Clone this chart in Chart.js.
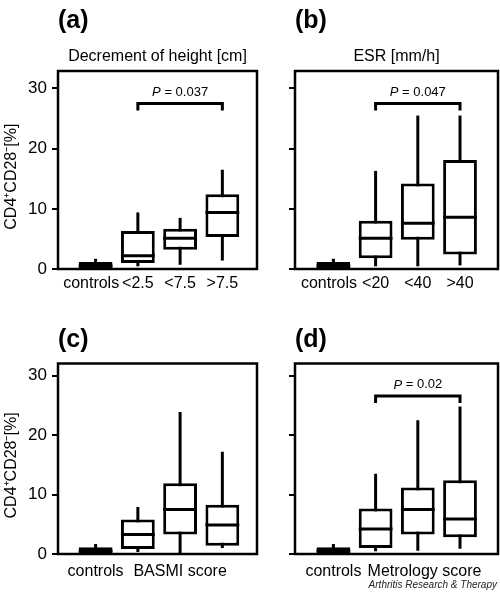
<!DOCTYPE html>
<html>
<head>
<meta charset="utf-8">
<script src="https://cdn.jsdelivr.net/npm/chart.js@4.4.1/dist/chart.umd.min.js"></script>
<style>
    html, body { margin: 0; padding: 0; background: #fff; }
    #fig { position: relative; width: 500px; height: 593px; overflow: hidden; }
    #fig canvas { position: absolute; }
    #credit {
        position: absolute; right: 3px; top: 579px;
        font: italic 10px "Liberation Sans", Arial, sans-serif; color: #222;
    }
</style>
</head>
<body>
<div id="fig">
    <canvas id="panelA" width="262" height="300" style="left:0;top:0"></canvas>
    <canvas id="panelB" width="263" height="300" style="left:237px;top:0"></canvas>
    <canvas id="panelC" width="262" height="300" style="left:0;top:293px"></canvas>
    <canvas id="panelD" width="263" height="300" style="left:237px;top:293px"></canvas>
    <div id="credit">Arthritis Research &amp; Therapy</div>
</div>
<script>
// CD4+CD28- T cells (%) - four box plot panels

// (a) decrement of height
const heightLabels = ['controls\u00a0\u00a0', '<2.5', '<7.5', '>7.5'];
const heightMin = [0, 0.45, 0.7, 1.4];
const heightQ1 = [0, 1.0, 3.2, 5.3];
const heightMedian = [0.5, 2.2, 5.1, 9.4];
const heightQ3 = [1.15, 6.3, 6.7, 12.4];
const heightMax = [1.7, 9.4, 8.5, 16.5];

// (b) ESR
const esrLabels = ['controls\u00a0\u00a0', '<20', '<40', '>40'];
const esrMin = [0, 0.45, 0.45, 0.6];
const esrQ1 = [0, 1.8, 4.85, 2.4];
const esrMedian = [0.5, 5.1, 7.6, 8.6];
const esrQ3 = [1.15, 8.0, 14.2, 18.1];
const esrMax = [1.7, 16.3, 25.5, 25.5];

// (c) BASMI score
const basmiLabels = ['controls', '', 'BASMI score', ''];
const basmiMin = [0, 0.35, 0, 1.0];
const basmiQ1 = [0, 0.85, 3.3, 1.4];
const basmiMedian = [0.5, 3.3, 7.5, 4.9];
const basmiQ3 = [1.15, 5.8, 11.9, 8.3];
const basmiMax = [1.7, 7.9, 23.9, 17.2];

// (d) metrology score
const metroLabels = ['controls', '', '\u00a0\u00a0\u00a0Metrology score', ''];
const metroMin = [0, 0.45, 0.55, 0.9];
const metroQ1 = [0, 1.0, 3.3, 2.8];
const metroMedian = [0.5, 4.2, 7.5, 5.9];
const metroQ3 = [1.15, 7.65, 11.2, 12.4];
const metroMax = [1.7, 13.5, 22.5, 24.8];

const yTicks = [0, 10, 20, 30];

// significance brackets: [from group, to group, level, P]
const heightSig = [1, 3, 27.5, '0.037'];
const esrSig = [1, 3, 27.5, '0.047'];
const metroSig = [1, 3, 26.6, '0.02'];

const FONT = '"Liberation Sans", Arial, sans-serif';
Chart.defaults.font.family = FONT;
Chart.defaults.color = '#000';

// medians, frame and P brackets
const boxExtras = {
    id: 'boxExtras',
    afterDatasetsDraw(chart, args, opts) {
        const { ctx, chartArea: area, scales: { x, y } } = chart;
        const boxes = chart.getDatasetMeta(0).data;
        ctx.save();
        ctx.strokeStyle = '#000';
        ctx.lineWidth = 3;
        opts.median.forEach((m, i) => {
            const bar = boxes[i];
            const py = y.getPixelForValue(m);
            ctx.beginPath();
            ctx.moveTo(bar.x - bar.width / 2, py);
            ctx.lineTo(bar.x + bar.width / 2, py);
            ctx.stroke();
        });

        ctx.lineWidth = 2.5;
        ctx.strokeRect(area.left, area.top, area.width, area.height);

        if (opts.sig) {
            const [from, to, level, p] = opts.sig;
            const x1 = x.getPixelForValue(from);
            const x2 = x.getPixelForValue(to);
            const yl = y.getPixelForValue(level);
            ctx.lineWidth = 3;
            ctx.beginPath();
            ctx.moveTo(x1, yl + 7);
            ctx.lineTo(x1, yl);
            ctx.lineTo(x2, yl);
            ctx.lineTo(x2, yl + 7);
            ctx.stroke();

            const rest = ' = ' + p;
            ctx.font = 'italic 13px ' + FONT;
            const wP = ctx.measureText('P').width;
            ctx.font = '13px ' + FONT;
            const wR = ctx.measureText(rest).width;
            const start = (x1 + x2) / 2 - (wP + wR) / 2;
            ctx.fillStyle = '#000';
            ctx.textAlign = 'left';
            ctx.textBaseline = 'middle';
            ctx.font = 'italic 13px ' + FONT;
            ctx.fillText('P', start, yl - 11);
            ctx.font = '13px ' + FONT;
            ctx.fillText(rest, start + wP, yl - 11);
        }
        ctx.restore();
    }
};

function makePanel(id, letter, subtitle, labels, min, q1, median, q3, max, sig, layout) {
    const ctx = document.getElementById(id);
    if (!ctx) return;

    new Chart(ctx, {
        type: 'bar',
        data: {
            datasets: [
                {
                    label: 'box',
                    data: q1.map((v, i) => ({ x: i, y: [v, q3[i]] })),
                    backgroundColor: q1.map((v, i) => i === 0 ? '#000' : '#fff'),
                    borderColor: '#000',
                    borderWidth: 3,
                    borderSkipped: false,
                    grouped: false,
                    barPercentage: 0.8,
                    categoryPercentage: 1,
                    order: 1
                },
                {
                    label: 'whisker',
                    data: min.map((v, i) => ({ x: i, y: [v, max[i]] })),
                    backgroundColor: '#000',
                    borderWidth: 0,
                    grouped: false,
                    maxBarThickness: 3,
                    order: 2
                }
            ]
        },
        options: {
            responsive: false,
            animation: false,
            events: [],
            layout: { padding: { top: layout.padTop, right: layout.padRight, bottom: 0, left: 0 } },
            plugins: {
                legend: { display: false },
                tooltip: { enabled: false },
                title: {
                    display: true,
                    text: letter,
                    align: 'start',
                    fullSize: false,
                    color: '#000',
                    font: { size: 25, weight: 'bold' },
                    padding: layout.titlePad
                },
                subtitle: {
                    display: !!subtitle,
                    text: subtitle || '',
                    fullSize: false,
                    color: '#000',
                    font: { size: 16 },
                    padding: { top: 11, bottom: 4.8 }
                },
                boxExtras: { median: median, sig: sig }
            },
            scales: {
                x: {
                    type: 'linear',
                    position: 'bottom',
                    offset: false,
                    min: layout.xMin,
                    max: layout.xMax,
                    afterBuildTicks: s => { s.ticks = labels.map((l, i) => ({ value: i })); },
                    afterFit: s => { s.height = layout.xHeight; },
                    grid: { display: false, drawTicks: false, offset: false },
                    border: { display: false },
                    ticks: {
                        autoSkip: false,
                        maxRotation: 0,
                        padding: layout.labelPad,
                        color: '#000',
                        font: { size: 16 },
                        callback: v => labels[v] ?? ''
                    }
                },
                y: {
                    min: 0,
                    max: layout.yMax,
                    afterBuildTicks: s => { s.ticks = yTicks.map(v => ({ value: v })); },
                    afterFit: s => { s.width = 58; },
                    grid: { drawOnChartArea: false, drawTicks: true, tickLength: 6, lineWidth: 2, color: '#000' },
                    border: { display: false },
                    ticks: {
                        padding: 5,
                        color: '#000',
                        font: { size: 17 },
                        callback: v => layout.showY ? v : ''
                    },
                    title: {
                        display: layout.showY,
                        text: 'CD4\u207aCD28\u207b[%]\u00a0\u00a0\u00a0',
                        color: '#000',
                        font: { size: 16 },
                        padding: { top: 2, bottom: 0 }
                    }
                }
            }
        },
        plugins: [boxExtras]
    });
}

const topRow = { padTop: 0, titlePad: { top: 6, bottom: 0 }, xHeight: 31, labelPad: 4.5, yMax: 32.9 };
const bottomRow = { padTop: 0, titlePad: { top: 32.5, bottom: 8 }, xHeight: 39, labelPad: 7.5, yMax: 32.05 };
const leftCol = { padRight: 5, xMin: -0.89, xMax: 3.82, showY: true };
const rightCol = { padRight: 2, xMin: -0.91, xMax: 3.9, showY: false };

makePanel('panelA', '(a)', 'Decrement of height [cm]', heightLabels, heightMin, heightQ1, heightMedian, heightQ3, heightMax, heightSig, { ...topRow, ...leftCol });
makePanel('panelB', '(b)', 'ESR [mm/h]', esrLabels, esrMin, esrQ1, esrMedian, esrQ3, esrMax, esrSig, { ...topRow, ...rightCol });
makePanel('panelC', '(c)', null, basmiLabels, basmiMin, basmiQ1, basmiMedian, basmiQ3, basmiMax, null, { ...bottomRow, ...leftCol });
makePanel('panelD', '(d)', null, metroLabels, metroMin, metroQ1, metroMedian, metroQ3, metroMax, metroSig, { ...bottomRow, ...rightCol });
</script>
</body>
</html>
